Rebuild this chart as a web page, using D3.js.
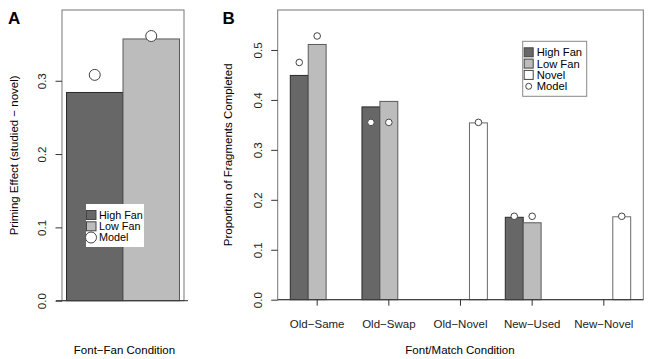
<!DOCTYPE html>
<html>
<head>
<meta charset="utf-8">
<script src="https://cdn.jsdelivr.net/npm/d3@7"></script>
<style>
  body { margin: 0; background: #fff; }
  svg { display: block; font-family: "Liberation Sans", Arial, sans-serif; }
  .tick line { stroke: #333; }
</style>
</head>
<body>
<div id="chart"></div>
<script>
// Panel A: priming effect by fan condition
const fanCategories = ["High Fan", "Low Fan"];
const primingEffect = [0.284, 0.357];
const primingModel = [0.308, 0.361];
const primingTicks = [0, 0.1, 0.2, 0.3];

// Panel B: proportion of fragments completed
const conditions = ["Old\u2212Same", "Old\u2212Swap", "Old\u2212Novel", "New\u2212Used", "New\u2212Novel"];
const seriesNames = ["High Fan", "Low Fan", "Novel"];
const highFan = [0.449, 0.386, 0, 0.165, 0];
const lowFan = [0.511, 0.397, 0, 0.154, 0];
const novel = [0, 0, 0.354, 0, 0.166];
const modelHigh = [0.475, 0.355, null, 0.167, null];
const modelLow = [0.528, 0.355, null, 0.167, null];
const modelNovel = [null, null, 0.355, null, 0.167];
const proportionTicks = [0, 0.1, 0.2, 0.3, 0.4, 0.5];

const colors = {"High Fan": "#676767", "Low Fan": "#bcbcbc", "Novel": "#ffffff"};
const strokes = {"High Fan": "#2a2a2a", "Low Fan": "#5a5a5a", "Novel": "#6a6a6a"};

const svg = d3.select("#chart").append("svg")
    .attr("width", 651)
    .attr("height", 359);

function yAxisRotated(g, scale, ticks) {
    g.call(d3.axisLeft(scale).tickValues(ticks).tickSize(6.5).tickFormat(d3.format(".1f")));
    g.select(".domain").remove();
    g.selectAll("text")
        .attr("x", null)
        .attr("dy", "0.35em")
        .attr("fill", "#222")
        .style("font-size", "11.5px")
        .attr("text-anchor", "middle")
        .attr("transform", "translate(-20,0) rotate(-90)");
}

// ---------- Panel A ----------
const boxA = {left: 62, right: 184, top: 10, bottom: 300.7};
const padA = (boxA.right - boxA.left) * 0.04 / 1.08;

const xA = d3.scaleBand()
    .domain(fanCategories)
    .range([boxA.left + padA, boxA.right - padA])
    .padding(0);

const yA = d3.scaleLinear()
    .domain([0, 0.3965])
    .range([boxA.bottom, boxA.top]);

const gA = svg.append("g");

gA.selectAll(".barA")
    .data(fanCategories.map((c, i) => ({cat: c, value: primingEffect[i]})))
    .enter().append("rect")
    .attr("x", d => xA(d.cat))
    .attr("y", d => yA(d.value))
    .attr("width", xA.bandwidth())
    .attr("height", d => yA(0) - yA(d.value))
    .attr("fill", d => colors[d.cat])
    .attr("stroke", d => strokes[d.cat])
    .attr("stroke-width", 1);

// box
gA.append("rect")
    .attr("x", boxA.left)
    .attr("y", boxA.top)
    .attr("width", boxA.right - boxA.left)
    .attr("height", boxA.bottom - boxA.top)
    .attr("fill", "none")
    .attr("stroke", "#777");

gA.append("line")
    .attr("x1", boxA.left - 6)
    .attr("x2", boxA.right + 4)
    .attr("y1", yA(0))
    .attr("y2", yA(0))
    .attr("stroke", "#333");

gA.selectAll(".modelA")
    .data(fanCategories.map((c, i) => ({cat: c, value: primingModel[i]})))
    .enter().append("circle")
    .attr("cx", d => xA(d.cat) + xA.bandwidth() / 2)
    .attr("cy", d => yA(d.value))
    .attr("r", 5.5)
    .attr("fill", "#fff")
    .attr("stroke", "#444");

gA.append("g")
    .attr("transform", `translate(${boxA.left},0)`)
    .call(g => yAxisRotated(g, yA, primingTicks));

// legend A
const legA = gA.append("g").attr("transform", "translate(86,204)");
legA.append("rect")
    .attr("width", 58).attr("height", 43)
    .attr("fill", "#fff");
fanCategories.forEach((c, i) => {
    legA.append("rect")
        .attr("x", 0.5).attr("y", 6.5 + i * 11.3)
        .attr("width", 9.5).attr("height", 9)
        .attr("fill", colors[c]).attr("stroke", "#444");
    legA.append("text")
        .attr("x", 13).attr("y", 11 + i * 11.3)
        .attr("dy", "0.35em")
        .style("font-size", "10.8px")
        .text(c);
});
legA.append("circle")
    .attr("cx", 5).attr("cy", 33.5).attr("r", 5.5)
    .attr("fill", "#fff").attr("stroke", "#444");
legA.append("text")
    .attr("x", 13).attr("y", 33.5)
    .attr("dy", "0.35em")
    .style("font-size", "10.8px")
    .text("Model");

gA.append("text")
    .attr("transform", `translate(18,${(boxA.top + boxA.bottom) / 2}) rotate(-90)`)
    .attr("text-anchor", "middle")
    .style("font-size", "11.5px")
    .text("Priming Effect (studied \u2212 novel)");

gA.append("text")
    .attr("x", 124.5).attr("y", 354)
    .attr("text-anchor", "middle")
    .style("font-size", "11.5px")
    .text("Font\u2212Fan Condition");

gA.append("text")
    .attr("x", 8).attr("y", 23.5)
    .style("font-size", "17px").style("font-weight", "bold")
    .text("A");

// ---------- Panel B ----------
const boxB = {left: 277.7, right: 643.3, top: 10, bottom: 299.7};
const innerPad = 12.6;

const xB = d3.scaleBand()
    .domain(conditions)
    .range([boxB.left + innerPad, boxB.right - innerPad])
    .paddingInner(0.25)
    .paddingOuter(0);

const xSub = d3.scaleBand()
    .domain(seriesNames)
    .range([0, xB.bandwidth()]);

const yB = d3.scaleLinear()
    .domain([0, 0.58])
    .range([boxB.bottom, boxB.top]);

const gB = svg.append("g");

const barData = [];
const modelData = [];
conditions.forEach((c, i) => {
    [[highFan, modelHigh], [lowFan, modelLow], [novel, modelNovel]].forEach(([vals, mods], j) => {
        if (vals[i] > 0) barData.push({cond: c, series: seriesNames[j], value: vals[i]});
        if (mods[i] != null) modelData.push({cond: c, series: seriesNames[j], value: mods[i]});
    });
});

gB.selectAll(".barB")
    .data(barData)
    .enter().append("rect")
    .attr("x", d => xB(d.cond) + xSub(d.series))
    .attr("y", d => yB(d.value))
    .attr("width", xSub.bandwidth())
    .attr("height", d => yB(0) - yB(d.value))
    .attr("fill", d => colors[d.series])
    .attr("stroke", d => strokes[d.series])
    .attr("stroke-width", 1);

gB.append("rect")
    .attr("x", boxB.left)
    .attr("y", boxB.top)
    .attr("width", boxB.right - boxB.left)
    .attr("height", boxB.bottom - boxB.top)
    .attr("fill", "none")
    .attr("stroke", "#777");

gB.append("line")
    .attr("x1", boxB.left).attr("x2", boxB.right)
    .attr("y1", yB(0)).attr("y2", yB(0))
    .attr("stroke", "#333");

gB.selectAll(".modelB")
    .data(modelData)
    .enter().append("circle")
    .attr("cx", d => xB(d.cond) + xSub(d.series) + xSub.bandwidth() / 2)
    .attr("cy", d => yB(d.value))
    .attr("r", 3.3)
    .attr("fill", "#fff")
    .attr("stroke", "#444");

gB.append("g")
    .attr("transform", `translate(${boxB.left},0)`)
    .call(g => yAxisRotated(g, yB, proportionTicks));

// x axis with ticks at group centres
const xAxisB = gB.append("g")
    .attr("transform", `translate(0,${boxB.bottom})`)
    .call(d3.axisBottom(xB).tickSize(6).tickPadding(14));
xAxisB.select(".domain").remove();
xAxisB.selectAll("text")
    .attr("fill", "#222")
    .style("font-size", "11.5px");

// legend B
const legB = gB.append("g").attr("transform", "translate(522.7,41.3)");
legB.append("rect")
    .attr("width", 64).attr("height", 55)
    .attr("fill", "#fff").attr("stroke", "#888");
seriesNames.forEach((s, i) => {
    legB.append("rect")
        .attr("x", 1.5).attr("y", 6.5 + i * 11.3)
        .attr("width", 9).attr("height", 9)
        .attr("fill", colors[s]).attr("stroke", "#444");
    legB.append("text")
        .attr("x", 14).attr("y", 11 + i * 11.3)
        .attr("dy", "0.35em")
        .style("font-size", "11.2px")
        .text(s);
});
legB.append("circle")
    .attr("cx", 6).attr("cy", 45).attr("r", 3)
    .attr("fill", "#fff").attr("stroke", "#444");
legB.append("text")
    .attr("x", 14).attr("y", 45)
    .attr("dy", "0.35em")
    .style("font-size", "11.2px")
    .text("Model");

gB.append("text")
    .attr("transform", `translate(232,${(boxB.top + boxB.bottom) / 2}) rotate(-90)`)
    .attr("text-anchor", "middle")
    .style("font-size", "11.5px")
    .text("Proportion of Fragments Completed");

gB.append("text")
    .attr("x", 460).attr("y", 354)
    .attr("text-anchor", "middle")
    .style("font-size", "11.5px")
    .text("Font/Match Condition");

gB.append("text")
    .attr("x", 222.5).attr("y", 23.5)
    .style("font-size", "17px").style("font-weight", "bold")
    .text("B");
</script>
</body>
</html>
